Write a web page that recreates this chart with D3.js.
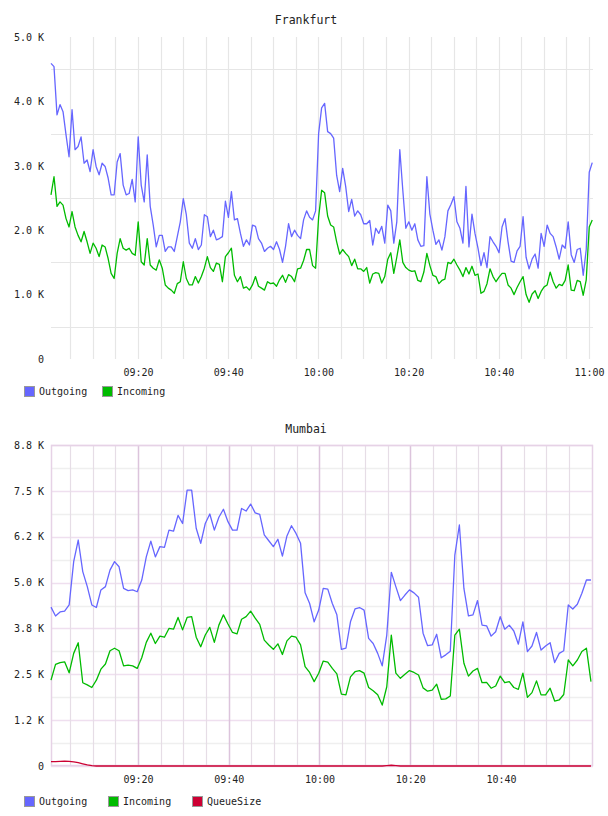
<!DOCTYPE html>
<html>
<head>
<meta charset="utf-8">
<script src="https://cdn.jsdelivr.net/npm/d3@7"></script>
<style>
  body { margin: 0; background: #fff; }
  text { font-family: "DejaVu Sans Mono", monospace; fill: #222; }
</style>
</head>
<body>
<svg id="chart" width="608" height="816"></svg>
<script>
// Frankfurt, one sample every 40 s from 09:00:43 (values in K)
const frankfurtOut = [
  4.59,4.54,3.79,3.95,3.84,3.48,3.14,3.87,3.25,3.30,
  3.45,3.04,3.09,2.91,3.25,2.99,2.86,3.04,2.99,2.81,
  2.55,2.55,3.06,3.19,2.70,2.55,2.57,2.79,2.44,3.45,
  2.70,2.44,3.17,2.37,2.08,1.74,1.92,1.92,1.67,1.74,
  1.74,1.67,1.90,2.13,2.49,2.24,
  1.80,1.72,1.87,1.70,1.77,2.24,2.21,1.90,2.00,1.85,
  1.87,1.90,2.45,2.20,2.60,2.16,2.18,1.95,1.75,1.85,
  1.77,2.08,2.06,1.87,1.80,1.67,1.72,1.75,1.70,1.82,
  1.70,1.50,1.75,2.10,1.90,2.00,1.92,1.87,2.16,2.30,
  2.20,2.16,2.30,3.50,3.90,3.97,
  3.53,3.50,3.43,2.85,2.60,2.96,2.68,2.29,2.48,2.22,
  2.30,2.24,2.10,2.10,2.15,1.77,2.03,1.95,2.06,1.80,
  2.39,2.30,1.80,2.13,3.25,2.62,2.03,2.13,2.00,2.10,
  1.85,1.75,1.76,2.83,2.25,2.00,1.78,1.85,1.69,1.90,
  2.30,2.40,2.52,2.13,2.03,1.80,
  2.68,1.74,2.25,1.95,1.72,1.45,1.65,1.42,1.90,1.82,
  1.75,1.65,2.05,2.18,1.82,1.52,1.50,1.68,1.75,2.21,
  1.58,1.40,1.55,1.63,1.41,1.95,1.75,2.08,1.95,1.90,
  1.74,1.55,1.77,1.72,2.13,1.62,1.50,1.70,1.72,1.30,
  1.70,2.90,3.05
];
const frankfurtIn = [
  2.55,2.83,2.37,2.44,2.39,2.18,2.05,2.29,2.05,1.92,
  1.82,1.98,1.82,1.64,1.80,1.72,1.59,1.77,1.74,1.56,
  1.33,1.25,1.64,1.87,1.72,1.69,1.72,1.64,1.61,2.13,
  1.51,1.46,1.87,1.46,1.41,1.38,1.54,1.41,1.15,1.10,
  1.07,1.02,1.17,1.20,1.51,1.25,
  1.15,1.15,1.28,1.18,1.28,1.41,1.59,1.42,1.36,1.49,
  1.47,1.20,1.59,1.65,1.72,1.30,1.20,1.28,1.10,1.12,
  1.07,1.15,1.28,1.13,1.10,1.07,1.20,1.17,1.18,1.13,
  1.23,1.30,1.19,1.31,1.28,1.20,1.40,1.41,1.53,1.70,
  1.70,1.45,1.41,2.20,2.62,2.58,
  2.22,2.08,2.05,1.82,1.63,1.70,1.64,1.59,1.45,1.55,
  1.40,1.40,1.36,1.42,1.18,1.32,1.34,1.33,1.18,1.28,
  1.55,1.65,1.33,1.58,1.85,1.50,1.42,1.38,1.36,1.37,
  1.22,1.20,1.35,1.64,1.45,1.30,1.28,1.17,1.22,1.24,
  1.50,1.48,1.55,1.46,1.38,1.28,
  1.42,1.32,1.44,1.30,1.32,1.02,1.05,1.17,1.40,1.28,
  1.20,1.27,1.33,1.33,1.15,1.10,1.00,1.11,1.20,1.28,
  1.00,0.88,1.01,1.06,0.94,1.05,1.12,1.15,1.35,1.20,
  1.10,1.16,1.14,1.22,1.46,1.07,1.06,1.22,1.20,0.99,
  1.23,2.05,2.16
];

// Mumbai, one sample per minute from 09:00:50 (values in K)
const mumbaiOut = [
  4.33,4.09,4.20,4.22,4.39,5.57,6.16,5.30,4.89,4.39,
  4.32,4.80,4.89,5.34,5.57,5.43,4.84,4.78,4.80,4.75,
  5.07,5.70,6.13,5.70,5.98,5.96,6.43,6.40,6.83,6.61,
  7.52,7.52,6.48,6.07,6.61,6.87,6.43,6.78,7.00,6.66,
  6.43,6.43,7.02,6.95,7.14,6.90,6.86,6.30,6.14,5.98,
  6.18,5.72,6.27,6.55,6.34,6.07,4.72,4.43,3.93,4.25,
  4.84,4.82,4.43,4.12,3.18,3.21,3.93,4.28,4.32,4.25,
  3.48,3.34,3.07,2.73,3.57,5.28,4.89,4.51,4.66,4.80,
  4.72,4.60,3.62,3.28,3.30,3.59,2.95,3.03,3.13,5.75,
  6.57,4.84,4.09,4.12,4.51,3.84,3.82,3.54,3.66,4.07,
  3.73,3.84,3.68,3.32,3.93,3.12,3.27,3.64,3.16,3.27,
  3.36,2.82,3.07,3.14,4.39,4.28,4.41,4.71,5.07,5.07
];
const mumbaiIn = [
  2.34,2.77,2.82,2.84,2.54,3.07,3.36,2.27,2.21,2.14,
  2.34,2.64,2.78,3.14,3.21,3.14,2.73,2.75,2.73,2.66,
  2.95,3.37,3.62,3.34,3.54,3.51,3.75,3.73,4.05,3.71,
  4.05,4.07,3.51,3.25,3.57,3.78,3.37,3.84,4.12,3.87,
  3.64,3.60,4.00,4.07,4.22,4.03,3.86,3.43,3.30,3.18,
  3.33,3.04,3.41,3.54,3.51,3.30,2.71,2.55,2.30,2.53,
  2.86,2.83,2.66,2.51,1.96,1.94,2.43,2.57,2.60,2.53,
  2.14,2.05,1.94,1.66,2.16,3.57,2.53,2.39,2.50,2.60,
  2.55,2.48,2.13,2.04,2.07,2.23,1.82,1.83,1.91,3.57,
  3.73,2.80,2.45,2.59,2.66,2.27,2.28,2.12,2.18,2.45,
  2.27,2.30,2.14,2.09,2.53,1.87,2.00,2.32,1.94,1.94,
  2.12,1.77,1.80,1.95,2.89,2.73,2.89,3.12,3.21,2.30
];
const mumbaiQueue = [
  0.12,0.12,0.125,0.13,0.125,0.11,0.09,0.06,0.03,0.01,
  0,0,0,0,0,0,0,0,0,0,
  0,0,0,0,0,0,0,0,0,0,
  0,0,0,0,0,0,0,0,0,0,
  0,0,0,0,0,0,0,0,0,0,
  0,0,0,0,0,0,0,0,0,0,
  0,0,0,0,0,0,0,0,0,0,
  0,0,0,0,0.01,0.02,0.01,0,0,0,
  0,0,0,0,0,0,0,0,0,0,
  0,0,0,0,0,0,0,0,0,0,
  0,0,0,0,0,0,0,0,0,0,
  0,0,0,0,0,0,0,0,0,0
];

const frankfurtTicks = [0, 1, 2, 3, 4, 5];
const frankfurtGrid = [0.5, 1.5, 2.5, 3.5, 4.5];
const mumbaiTicks = [0, 1.25, 2.5, 3.75, 5, 6.25, 7.5, 8.75];
const mumbaiTickLabels = ["0", "1.2 K", "2.5 K", "3.8 K", "5.0 K", "6.2 K", "7.5 K", "8.8 K"];
const frankfurtTimeTicks = ["09:20", "09:40", "10:00", "10:20", "10:40", "11:00"];
const mumbaiTimeTicks = ["09:20", "09:40", "10:00", "10:20", "10:40"];

const colors = { out: "#6666ff", inc: "#00bb00", queue: "#cc0033" };

const parse = d3.timeParse("%H:%M:%S");
const hm = d3.timeParse("%H:%M");
const svg = d3.select("#chart");
const crisp = v => Math.round(v) + 0.5;

function drawLines(g, x, y, times, series) {
  series.forEach(s => {
    const line = d3.line()
      .x((d, i) => x(times[i]))
      .y(d => y(d));
    g.append("path")
      .datum(s.values)
      .attr("fill", "none")
      .attr("stroke", s.color)
      .attr("stroke-width", 1.3)
      .attr("stroke-linejoin", "round")
      .attr("d", line);
  });
}

function drawLegend(yTop, items) {
  const lg = svg.append("g").attr("transform", "translate(0," + yTop + ")");
  items.forEach(it => {
    lg.append("rect")
      .attr("x", it.x + 0.5).attr("y", 0.5)
      .attr("width", 10).attr("height", 10)
      .attr("fill", it.color)
      .attr("stroke", "#999");
    lg.append("text")
      .attr("x", it.x + 15).attr("y", 9)
      .style("font-size", "10px")
      .text(it.label);
  });
}

// ---------- Frankfurt ----------
const fx = d3.scaleTime().domain([parse("09:00:43"), parse("11:00:53")]).range([51, 593]);
const fy = d3.scaleLinear().domain([0, 5]).range([359, 37]);
const fTimes = frankfurtOut.map((d, i) => d3.timeSecond.offset(parse("09:00:43"), i * 40));

svg.append("text")
  .attr("x", 306).attr("y", 24)
  .attr("text-anchor", "middle")
  .style("font-size", "11.5px")
  .text("Frankfurt");

const fGrid = svg.append("g");
fGrid.selectAll(".v")
  .data(d3.timeMinute.every(5).range(hm("09:05"), parse("11:00:01")))
  .enter().append("line")
  .attr("x1", d => crisp(fx(d))).attr("x2", d => crisp(fx(d)))
  .attr("y1", 37).attr("y2", 359)
  .attr("stroke", "#e6e6e6").attr("stroke-width", 1.2);
fGrid.selectAll(".h")
  .data(frankfurtGrid)
  .enter().append("line")
  .attr("x1", 51).attr("x2", 593)
  .attr("y1", d => crisp(fy(d))).attr("y2", d => crisp(fy(d)))
  .attr("stroke", "#e6e6e6").attr("stroke-width", 1.2);

const fyAxis = svg.append("g")
  .attr("transform", "translate(51,0)")
  .call(d3.axisLeft(fy).tickValues(frankfurtTicks).tickSize(0).tickPadding(7)
    .tickFormat(d => d === 0 ? "0" : d.toFixed(1) + " K"));
fyAxis.select(".domain").remove();
fyAxis.selectAll("text").style("font-size", "10px").style("font-family", null);

const fxAxis = svg.append("g")
  .attr("transform", "translate(0,359)")
  .call(d3.axisBottom(fx).tickValues(frankfurtTimeTicks.map(hm)).tickSize(0).tickPadding(10)
    .tickFormat(d3.timeFormat("%H:%M")));
fxAxis.select(".domain").remove();
fxAxis.selectAll("text").style("font-size", "10px").style("font-family", null);

drawLines(svg.append("g"), fx, fy, fTimes, [
  { values: frankfurtOut, color: colors.out },
  { values: frankfurtIn, color: colors.inc }
]);

drawLegend(386, [
  { x: 24, color: colors.out, label: "Outgoing" },
  { x: 102, color: colors.inc, label: "Incoming" }
]);

// ---------- Mumbai ----------
const mx = d3.scaleTime().domain([parse("09:00:50"), parse("11:00:17")]).range([51, 593]);
const my = d3.scaleLinear().domain([0, 8.75]).range([766, 445]);
const mTimes = mumbaiOut.map((d, i) => d3.timeMinute.offset(parse("09:00:50"), i));

svg.append("text")
  .attr("x", 306).attr("y", 433)
  .attr("text-anchor", "middle")
  .style("font-size", "11.5px")
  .text("Mumbai");

const mGrid = svg.append("g");
mGrid.selectAll(".hm")
  .data(d3.range(0.625, 8.75, 1.25))
  .enter().append("line")
  .attr("x1", 51).attr("x2", 593)
  .attr("y1", d => crisp(my(d))).attr("y2", d => crisp(my(d)))
  .attr("stroke", "#efefef").attr("stroke-width", 1.5);
mGrid.selectAll(".hM")
  .data(mumbaiTicks)
  .enter().append("line")
  .attr("x1", 51).attr("x2", 593)
  .attr("y1", d => crisp(my(d))).attr("y2", d => crisp(my(d)))
  .attr("stroke", "#efdfef").attr("stroke-width", 1.5);
mGrid.selectAll(".v")
  .data(d3.timeMinute.every(5).range(hm("09:05"), hm("11:00")))
  .enter().append("line")
  .attr("x1", d => crisp(mx(d))).attr("x2", d => crisp(mx(d)))
  .attr("y1", 445).attr("y2", 766)
  .attr("stroke", d => d.getMinutes() % 20 === 0 ? "#dcc4dc" : "#e6dde6")
  .attr("stroke-width", d => d.getMinutes() % 20 === 0 ? 1.5 : 1.2);
mGrid.append("rect")
  .attr("x", 51.5).attr("y", 445.5)
  .attr("width", 541).attr("height", 320)
  .attr("fill", "none")
  .attr("stroke", "#e6d2e6").attr("stroke-width", 1.5);

const myAxis = svg.append("g")
  .attr("transform", "translate(51,0)")
  .call(d3.axisLeft(my).tickValues(mumbaiTicks).tickSize(0).tickPadding(7)
    .tickFormat((d, i) => mumbaiTickLabels[i]));
myAxis.select(".domain").remove();
myAxis.selectAll("text").style("font-size", "10px").style("font-family", null);

const mxAxis = svg.append("g")
  .attr("transform", "translate(0,766)")
  .call(d3.axisBottom(mx).tickValues(mumbaiTimeTicks.map(hm)).tickSize(0).tickPadding(10)
    .tickFormat(d3.timeFormat("%H:%M")));
mxAxis.select(".domain").remove();
mxAxis.selectAll("text").style("font-size", "10px").style("font-family", null);

drawLines(svg.append("g"), mx, my, mTimes, [
  { values: mumbaiOut, color: colors.out },
  { values: mumbaiIn, color: colors.inc },
  { values: mumbaiQueue, color: colors.queue }
]);

drawLegend(796, [
  { x: 24, color: colors.out, label: "Outgoing" },
  { x: 108, color: colors.inc, label: "Incoming" },
  { x: 192, color: colors.queue, label: "QueueSize" }
]);
</script>
</body>
</html>
